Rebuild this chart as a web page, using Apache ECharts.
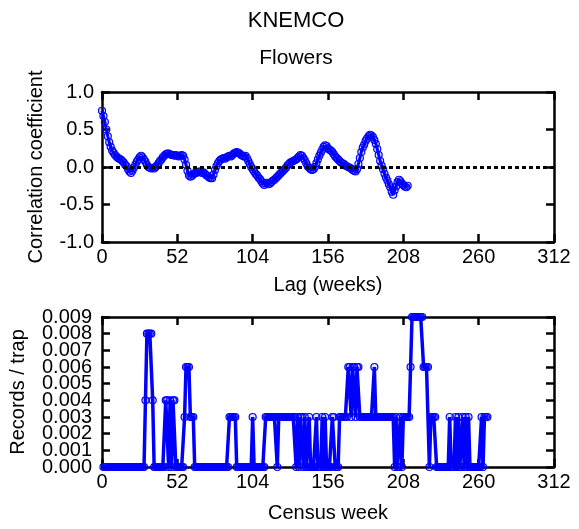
<!DOCTYPE html>
<html>
<head>
<meta charset="utf-8">
<script src="https://cdn.jsdelivr.net/npm/echarts@6/dist/echarts.min.js"></script>
<style>
  html, body { margin: 0; padding: 0; background: #fff; }
  #chart { width: 579px; height: 529px; }
</style>
</head>
<body>
<div id="chart"></div>
<script>
// Autocorrelation of flower records at lags 0..211 weeks
const correlation = [
  0.75, 0.68, 0.60, 0.50, 0.41, 0.33, 0.27, 0.22, 0.19, 0.16,
  0.14, 0.12, 0.11, 0.10, 0.08, 0.06, 0.03, 0.01, -0.03, -0.06,
  -0.08, -0.05, -0.01, 0.03, 0.07, 0.10, 0.13, 0.15, 0.13, 0.10,
  0.07, 0.03, 0.00, -0.01, -0.02, -0.01, -0.02, 0.00, 0.02, 0.05,
  0.08, 0.10, 0.13, 0.15, 0.17, 0.18, 0.18, 0.17, 0.16, 0.16,
  0.15, 0.16, 0.15, 0.14, 0.15, 0.16, 0.15, 0.10, 0.03, -0.05,
  -0.11, -0.13, -0.12, -0.10, -0.08, -0.08, -0.07, -0.06, -0.06, -0.08,
  -0.07, -0.09, -0.11, -0.12, -0.14, -0.15, -0.15, -0.10, -0.04, 0.01,
  0.05, 0.08, 0.10, 0.11, 0.12, 0.11, 0.13, 0.14, 0.15, 0.14,
  0.16, 0.18, 0.19, 0.20, 0.19, 0.18, 0.16, 0.15, 0.14, 0.15,
  0.12, 0.08, 0.04, 0.00, -0.03, -0.06, -0.09, -0.11, -0.14, -0.16,
  -0.19, -0.22, -0.24, -0.22, -0.21, -0.23, -0.22, -0.20, -0.18, -0.17,
  -0.15, -0.13, -0.11, -0.09, -0.07, -0.05, -0.03, -0.01, 0.02, 0.04,
  0.06, 0.07, 0.08, 0.09, 0.10, 0.12, 0.14, 0.16, 0.15, 0.12,
  0.09, 0.05, 0.01, -0.01, -0.03, -0.04, -0.03, 0.00, 0.05, 0.10,
  0.15, 0.19, 0.23, 0.27, 0.29, 0.28, 0.25, 0.23, 0.22, 0.20,
  0.17, 0.14, 0.12, 0.10, 0.08, 0.06, 0.05, 0.04, 0.02, 0.01,
  0.00, -0.01, -0.02, -0.04, -0.05, -0.06, -0.03, 0.04, 0.12, 0.20,
  0.26, 0.30, 0.35, 0.38, 0.41, 0.43, 0.42, 0.40, 0.36, 0.31,
  0.24, 0.16, 0.08, 0.02, -0.03, -0.09, -0.14, -0.18, -0.23, -0.27,
  -0.33, -0.37, -0.31, -0.26, -0.20, -0.17, -0.19, -0.22, -0.24, -0.26,
  -0.27, -0.25
];
const firstLag = 0;

// Weekly flower records per trap, census weeks 1..266
const recordsPerTrap = [
  0, 0, 0, 0, 0, 0, 0, 0, 0, 0,
  0, 0, 0, 0, 0, 0, 0, 0, 0, 0,
  0, 0, 0, 0, 0, 0, 0, 0, 0, 0.004,
  0.008, 0.008, 0.008, 0.008, 0.004, 0, 0, 0, 0, 0,
  0, 0, 0, 0.004, 0.004, 0, 0.004, 0, 0.004, 0.004,
  0, 0, 0, 0, 0, 0, 0.003, 0.006, 0.006, 0.006,
  0.003, 0.003, 0.003, 0, 0, 0, 0, 0, 0, 0,
  0, 0, 0, 0, 0, 0, 0, 0, 0, 0,
  0, 0, 0, 0, 0, 0, 0, 0.003, 0.003, 0.003,
  0.003, 0.003, 0, 0, 0, 0, 0, 0, 0, 0,
  0, 0, 0, 0.003, 0, 0, 0, 0, 0, 0,
  0, 0, 0.003, 0.003, 0.003, 0.003, 0.003, 0.003, 0.003, 0.003,
  0, 0.003, 0.003, 0.003, 0.003, 0.003, 0.003, 0.003, 0.003, 0.003,
  0.003, 0.003, 0.003, 0, 0.003, 0, 0.003, 0.003, 0, 0.003,
  0, 0, 0.003, 0, 0, 0, 0, 0.003, 0, 0,
  0, 0.003, 0, 0.003, 0, 0, 0, 0, 0.003, 0.003,
  0, 0, 0, 0.003, 0.003, 0.003, 0.003, 0.003, 0.003, 0.006,
  0.006, 0.003, 0.006, 0.006, 0.003, 0.006, 0.006, 0.003, 0.003, 0.003,
  0.003, 0.003, 0.003, 0.003, 0.003, 0.003, 0.003, 0.006, 0.003, 0.003,
  0.003, 0.003, 0.003, 0.003, 0.003, 0.003, 0.003, 0.003, 0.003, 0.003,
  0.003, 0, 0.003, 0, 0, 0.003, 0, 0.003, 0.003, 0.003,
  0.003, 0.003, 0.006, 0.009, 0.009, 0.009, 0.009, 0.009, 0.009, 0.009,
  0.009, 0.006, 0.006, 0.006, 0.006, 0, 0.003, 0.003, 0.003, 0.003,
  0, 0, 0, 0, 0, 0, 0, 0, 0, 0.003,
  0, 0, 0, 0.003, 0, 0.003, 0, 0, 0.003, 0,
  0.003, 0, 0.003, 0, 0, 0, 0, 0, 0, 0,
  0, 0.003, 0, 0.003, 0.003, 0.003
];
const firstWeek = 1;

// Tick labels
const weekTicks = [0, 52, 104, 156, 208, 260, 312];
const correlationTicks = [-1.0, -0.5, 0.0, 0.5, 1.0];
const rateTickLabels = ['0.000', '0.001', '0.002', '0.003', '0.004',
                        '0.005', '0.006', '0.007', '0.008', '0.009'];
const titleText = 'KNEMCO';
const subtitleText = 'Flowers';

const FONT = "'Liberation Sans', Arial, Helvetica, sans-serif";
const BLUE = '#0000ff';
const AXIS_W = 2.5;
const LINE = { color: '#000', width: AXIS_W };
const TICK = { show: true, inside: true, length: 8, lineStyle: LINE };
const LABEL = { color: '#000', fontSize: 20, fontFamily: FONT };

const corrData = correlation.map((v, i) => [firstLag + i, v]);
const recData = recordsPerTrap.map((v, i) => [firstWeek + i, v]);
const rateMax = parseFloat(rateTickLabels[rateTickLabels.length - 1]);
const rateStep = parseFloat(rateTickLabels[1]) - parseFloat(rateTickLabels[0]);

function xAxes(grid, name, nameGap) {
  const base = {
    gridIndex: grid, type: 'value',
    min: weekTicks[0], max: weekTicks[weekTicks.length - 1],
    interval: weekTicks[1] - weekTicks[0],
    splitLine: { show: false },
    axisLine: { show: true, onZero: false, lineStyle: LINE },
    axisTick: TICK
  };
  return [
    Object.assign({}, base, {
      position: 'bottom',
      axisLabel: Object.assign({ show: true, margin: 5, showMinLabel: true, showMaxLabel: true }, LABEL),
      name: name, nameLocation: 'middle', nameGap: nameGap,
      nameTextStyle: LABEL
    }),
    Object.assign({}, base, { position: 'top', axisLabel: { show: false } })
  ];
}

const yAxisList = [
  // top panel: correlation (left with labels, right with ticks only)
  {
    gridIndex: 0, type: 'value', position: 'left',
    min: correlationTicks[0], max: correlationTicks[correlationTicks.length - 1],
    interval: correlationTicks[1] - correlationTicks[0],
    splitLine: { show: false },
    axisLine: { show: true, onZero: false, lineStyle: LINE },
    axisTick: TICK,
    axisLabel: Object.assign({ margin: 8, showMinLabel: true, showMaxLabel: true,
                               formatter: v => v.toFixed(1) }, LABEL),
    name: 'Correlation coefficient', nameLocation: 'middle', nameGap: 56,
    nameTextStyle: LABEL
  },
  {
    gridIndex: 0, type: 'value', position: 'right',
    min: correlationTicks[0], max: correlationTicks[correlationTicks.length - 1],
    interval: correlationTicks[1] - correlationTicks[0],
    splitLine: { show: false },
    axisLine: { show: true, onZero: false, lineStyle: LINE },
    axisTick: TICK, axisLabel: { show: false }
  },
  // bottom panel: records per trap, value scale on the right (ticks only)
  {
    gridIndex: 1, type: 'value', position: 'right',
    min: 0, max: rateMax, interval: rateStep,
    splitLine: { show: false },
    axisLine: { show: true, onZero: false, lineStyle: LINE },
    axisTick: TICK, axisLabel: { show: false }
  },
  // bottom panel: left axis carrying every tick label
  {
    gridIndex: 1, type: 'category', position: 'left',
    data: rateTickLabels, boundaryGap: false,
    splitLine: { show: false },
    axisLine: { show: true, onZero: false, lineStyle: LINE },
    axisTick: Object.assign({ interval: 0 }, TICK),
    axisLabel: Object.assign({ interval: 0, margin: 10 }, LABEL),
    name: 'Records / trap', nameLocation: 'middle', nameGap: 74,
    nameTextStyle: LABEL
  }
];

const chart = echarts.init(document.getElementById('chart'), null, { renderer: 'canvas' });
chart.setOption({
  animation: false,
  backgroundColor: '#fff',
  textStyle: { fontFamily: FONT },
  graphic: [
    { type: 'text', x: 296, y: 21,
      style: { text: titleText, font: "22px " + FONT, fill: '#000', textAlign: 'center', textVerticalAlign: 'middle' } },
    { type: 'text', x: 296, y: 58,
      style: { text: subtitleText, font: "21px " + FONT, fill: '#000', textAlign: 'center', textVerticalAlign: 'middle' } }
  ],
  grid: [
    { left: 102, top: 92, width: 452, height: 150 },
    { left: 102, top: 317, width: 452, height: 150 }
  ],
  xAxis: [].concat(xAxes(0, 'Lag (weeks)', 33), xAxes(1, 'Census week', 36)),
  yAxis: yAxisList,
  series: [
    {
      type: 'line', xAxisIndex: 0, yAxisIndex: 0, data: corrData,
      symbol: 'circle', symbolSize: 7, showAllSymbol: true,
      lineStyle: { color: BLUE, width: 3 },
      itemStyle: { color: 'rgba(0,0,255,0.12)', borderColor: BLUE, borderWidth: 1.2 },
      markLine: {
        silent: true, symbol: 'none', label: { show: false },
        lineStyle: { color: '#000', width: 3, type: [4, 3] },
        data: [{ yAxis: 0 }],
        z: 10
      }
    },
    {
      type: 'line', xAxisIndex: 2, yAxisIndex: 2, data: recData,
      symbol: 'circle', symbolSize: 7, showAllSymbol: true,
      lineStyle: { color: BLUE, width: 3.5 },
      itemStyle: { color: 'rgba(0,0,255,0.12)', borderColor: BLUE, borderWidth: 1.2 }
    }
  ]
});
</script>
</body>
</html>
